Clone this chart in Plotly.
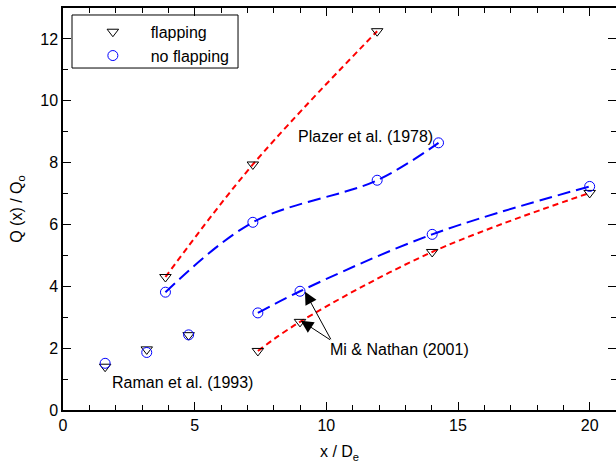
import plotly.graph_objects as go

# Raman et al. (1993)
raman_x = [1.6, 3.18, 4.77]
raman_flap_y = [1.40, 1.96, 2.42]
raman_noflap_y = [1.51, 1.86, 2.43]

# Platzer et al. (1978)
platzer_flap_x = [3.89, 7.21, 11.93]
platzer_flap_y = [4.30, 7.94, 12.25]
platzer_noflap_x = [3.89, 7.21, 11.93, 14.26]
platzer_noflap_y = [3.81, 6.07, 7.43, 8.64]

# Mi & Nathan (2001)
mi_x = [7.40, 9.0, 14.02, 20.0]
mi_flap_y = [1.91, 2.85, 5.11, 7.02]
mi_noflap_y = [3.14, 3.84, 5.68, 7.23]

FONT = "Liberation Sans, Arial, sans-serif"
RED = "#ff0000"
BLUE = "#0000ff"

fig = go.Figure()

# fitted curves
fig.add_trace(go.Scatter(x=platzer_flap_x, y=platzer_flap_y, mode="lines",
                         line=dict(color=RED, width=2, dash="6px,4px", shape="spline"),
                         showlegend=False, hoverinfo="skip"))
fig.add_trace(go.Scatter(x=mi_x, y=mi_flap_y, mode="lines",
                         line=dict(color=RED, width=2, dash="6px,4px", shape="spline"),
                         showlegend=False, hoverinfo="skip"))
fig.add_trace(go.Scatter(x=platzer_noflap_x, y=platzer_noflap_y, mode="lines",
                         line=dict(color=BLUE, width=2, dash="13px,6px", shape="spline"),
                         showlegend=False, hoverinfo="skip"))
fig.add_trace(go.Scatter(x=mi_x, y=mi_noflap_y, mode="lines",
                         line=dict(color=BLUE, width=2, dash="13px,6px", shape="spline"),
                         showlegend=False, hoverinfo="skip"))

flap_x = raman_x + platzer_flap_x + mi_x
flap_y = raman_flap_y + platzer_flap_y + mi_flap_y
noflap_x = raman_x + platzer_noflap_x + mi_x
noflap_y = raman_noflap_y + platzer_noflap_y + mi_noflap_y

NB = "\u00a0" * 4
fig.add_trace(go.Scatter(x=flap_x, y=flap_y, mode="markers", name=NB + "flapping",
                         marker=dict(symbol="triangle-down-open", size=10,
                                     color="black", line=dict(width=1, color="black"))))
fig.add_trace(go.Scatter(x=noflap_x, y=noflap_y, mode="markers", name=NB + "no flapping",
                         marker=dict(symbol="circle-open", size=10,
                                     color=BLUE, line=dict(width=1, color=BLUE))))

tickfont = dict(family=FONT, size=16, color="black")

fig.update_layout(
    xaxis=dict(range=[0, 21], dtick=5, tick0=0, ticklen=8, ticks="inside",
               tickcolor="black", tickwidth=1, showline=True, linecolor="black",
               linewidth=1.5, mirror="ticks", showgrid=False, zeroline=False,
               tickfont=tickfont,
               minor=dict(dtick=1, ticks="inside", ticklen=5, tickcolor="black"),
               title=dict(text="x / D<sub>e</sub>",
                          font=dict(family=FONT, size=16, color="black"), standoff=13)),
    yaxis=dict(range=[0, 13], dtick=2, tick0=0, ticklen=8, ticks="inside",
               tickcolor="black", tickwidth=1, showline=True, linecolor="black",
               linewidth=1.5, mirror=False, showgrid=False, zeroline=False,
               tickfont=tickfont,
               minor=dict(dtick=1, ticks="inside", ticklen=5, tickcolor="black"),
               title=dict(text="Q (x) / Q<sub>o</sub>",
                          font=dict(family=FONT, size=16, color="black"), standoff=14)),
    yaxis2=dict(range=[0, 13], matches="y", overlaying="y", side="right", anchor="x",
                dtick=2, tick0=0, ticklen=8, ticks="inside", tickcolor="black",
                tickwidth=1, showline=False, showgrid=False, zeroline=False,
                showticklabels=False,
                minor=dict(dtick=1, ticks="inside", ticklen=5, tickcolor="black")),
)

# invisible carrier so the right-hand tick axis is drawn
fig.add_trace(go.Scatter(x=mi_x, y=mi_noflap_y, yaxis="y2", mode="markers",
                         marker=dict(opacity=0), showlegend=False, hoverinfo="skip"))

ann_font = dict(family=FONT, size=16, color="black")
annotations = [
    dict(x=11.50, y=8.83, text="Plazer et al. (1978)", showarrow=False, font=ann_font),
    dict(x=4.53, y=0.88, text="Raman et al. (1993)", showarrow=False, font=ann_font),
    dict(x=12.79, y=1.97, text="Mi & Nathan (2001)", showarrow=False, font=ann_font),
    dict(x=9.19, y=3.82, ax=10.20, ay=2.24, axref="x", ayref="y", text="",
         showarrow=True, arrowhead=2, arrowsize=2.5, arrowwidth=1, arrowcolor="black"),
    dict(x=9.03, y=2.89, ax=10.20, ay=2.24, axref="x", ayref="y", text="",
         showarrow=True, arrowhead=2, arrowsize=2.5, arrowwidth=1, arrowcolor="black"),
]

# legend frame
shapes = [dict(type="rect", xref="paper", yref="paper",
               x0=0.0163, x1=0.3165, y0=0.8507, y1=0.9826,
               line=dict(color="black", width=1), fillcolor="white", layer="below")]

fig.update_layout(
    width=616, height=463,
    margin=dict(l=63, r=0, t=8, b=53),
    paper_bgcolor="white", plot_bgcolor="rgba(0,0,0,0)",
    font=dict(family=FONT, size=16, color="black"),
    annotations=annotations,
    shapes=shapes,
    legend=dict(x=0.054, y=0.983, xanchor="left", yanchor="top",
                borderwidth=0, bgcolor="rgba(0,0,0,0)",
                font=dict(family=FONT, size=16, color="black"),
                tracegroupgap=0),
)

fig.write_html("out.html")
